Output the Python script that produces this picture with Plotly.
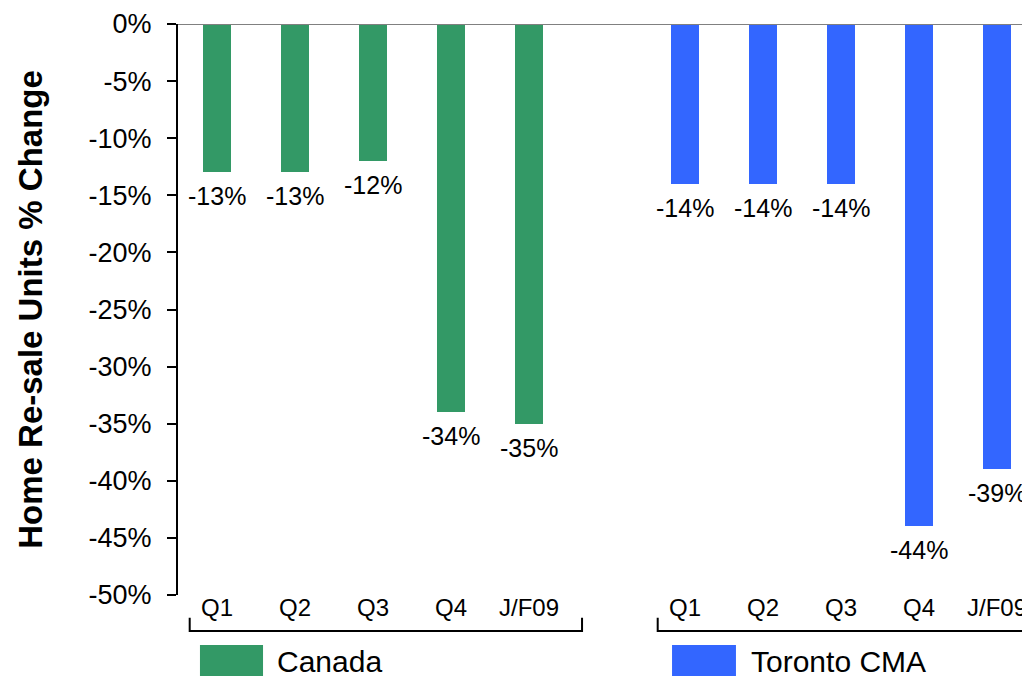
import plotly.graph_objects as go

GREEN = "#339966"
BLUE = "#3366FF"
FONT = "Liberation Sans, Arial, sans-serif"

quarters = ["Q1", "Q2", "Q3", "Q4", "J/F09"]
canada = [-13, -13, -12, -34, -35]
toronto = [-14, -14, -14, -44, -39]
y_ticks = list(range(0, -55, -5))

# Canada in slots 0-4, one empty slot, Toronto in slots 6-10
canada_x = list(range(0, 5))
toronto_x = list(range(6, 11))

fig = go.Figure()
for name, xs, ys, color in [
    ("Canada", canada_x, canada, GREEN),
    ("Toronto CMA", toronto_x, toronto, BLUE),
]:
    fig.add_trace(
        go.Bar(
            x=xs,
            y=ys,
            name=name,
            marker=dict(color=color, line=dict(width=0)),
            width=0.37,
            showlegend=False,
        )
    )
    for x, y in zip(xs, ys):
        fig.add_annotation(
            x=x,
            y=y,
            text=f"{y}%",
            showarrow=False,
            yanchor="top",
            yshift=-8,
            font=dict(family=FONT, size=25, color="black"),
        )

# group brackets under the category labels
for xs in (canada_x, toronto_x):
    x0, x1 = xs[0] - 0.35, xs[-1] + 0.68
    fig.add_shape(
        type="path",
        xref="x",
        yref="paper",
        path=f"M {x0},-0.040 L {x0},-0.063 L {x1},-0.063 L {x1},-0.040",
        line=dict(color="black", width=2),
    )

# zero line across the top
fig.add_shape(
    type="line",
    xref="paper",
    yref="y",
    x0=0,
    x1=1,
    y0=0,
    y1=0,
    line=dict(color="#808080", width=2),
)

# legend boxes drawn by hand (large swatches)
for name, color, bx0, bx1, tx in [
    ("Canada", GREEN, 0.0256, 0.0991, 0.1131),
    ("Toronto CMA", BLUE, 0.5758, 0.6503, 0.6655),
]:
    fig.add_shape(
        type="rect",
        xref="paper",
        yref="paper",
        x0=bx0,
        x1=bx1,
        y0=-0.0876,
        y1=-0.1419,
        fillcolor=color,
        line=dict(width=0),
    )
    fig.add_annotation(
        xref="paper",
        yref="paper",
        x=tx,
        y=-0.1173,
        text=name,
        showarrow=False,
        xanchor="left",
        yanchor="middle",
        font=dict(family=FONT, size=30, color="black"),
    )

fig.update_layout(
    width=1030,
    height=676,
    margin=dict(l=170, r=2, t=16, b=89),
    plot_bgcolor="white",
    paper_bgcolor="white",
    font=dict(family=FONT, color="black"),
    bargap=0,
    xaxis=dict(
        range=[-0.5, 10.5],
        tickvals=canada_x + toronto_x,
        ticktext=quarters + quarters,
        tickfont=dict(size=24),
        showline=False,
        showgrid=False,
        zeroline=False,
        ticks="",
        ticklabelstandoff=-4,
    ),
    yaxis=dict(
        range=[-50, 0],
        tickvals=y_ticks,
        ticktext=[f"{v}%" for v in y_ticks],
        tickfont=dict(size=27),
        showline=True,
        linecolor="black",
        linewidth=2,
        ticks="outside",
        ticklen=9,
        tickwidth=2,
        tickcolor="black",
        ticklabelstandoff=10,
        ticklabeloverflow="allow",
        showgrid=False,
        zeroline=False,
        title=dict(
            text="<b>Home Re-sale Units % Change</b>",
            font=dict(size=33),
            standoff=36,
        ),
    ),
)

fig.write_html("out.html")
